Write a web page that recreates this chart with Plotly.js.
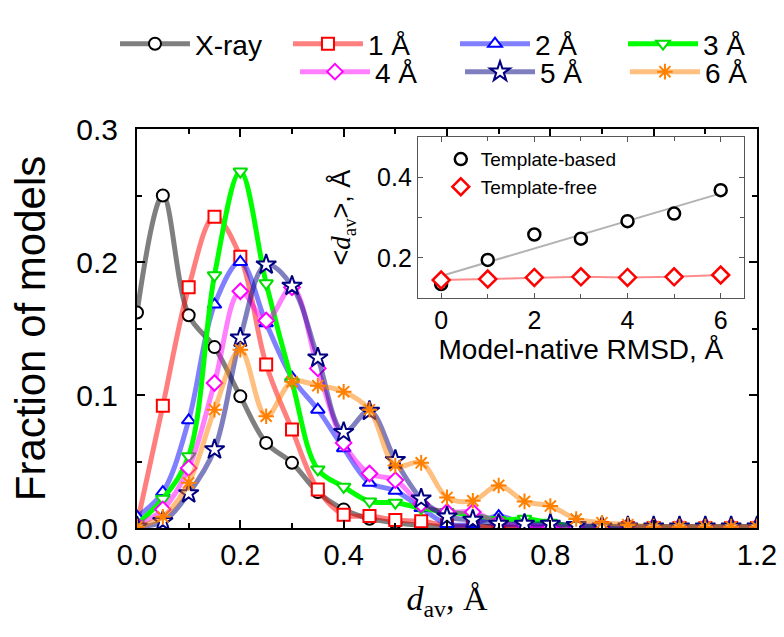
<!DOCTYPE html>
<html><head><meta charset="utf-8">
<script src="https://cdn.plot.ly/plotly-3.0.1.min.js"></script>
<style>body{margin:0;background:#fff}</style>
</head><body><div id="chart" style="width:784px;height:637px"></div>
<script>
// distance values d_av (Å)
const dav = [0,0.05,0.1,0.15,0.2,0.25,0.3,0.35,0.4,0.45,0.5,0.55,0.6,0.65,0.7,0.75,0.8,0.85,0.9,0.95,1.0,1.05,1.1,1.15,1.2];
const seriesNames = ['X-ray','1 Å','2 Å','3 Å','4 Å','5 Å','6 Å'];
const xray = [0.162,0.250,0.160,0.136,0.099,0.064,0.049,0.027,0.014,0.007,0.004,0.002,0.001,0.001,0.001,0,0,0,0,0,0,0,0,0,0];
const rmsd1 = [0.003,0.092,0.181,0.234,0.204,0.123,0.074,0.029,0.010,0.009,0.006,0.005,0.002,0.001,0.001,0,0,0,0,0,0,0,0,0,0];
const rmsd2 = [0.0085,0.027,0.081,0.168,0.200,0.154,0.113,0.089,0.060,0.034,0.028,0.015,0.003,0.003,0.009,0.003,0.001,0.001,0.001,0.001,0.001,0.001,0.001,0.001,0.001];
const rmsd3 = [0.003,0.022,0.054,0.190,0.268,0.184,0.110,0.044,0.031,0.020,0.019,0.015,0.012,0.010,0.006,0.007,0.004,0.001,0.001,0.001,0.001,0.001,0.001,0.001,0.001];
const rmsd4 = [0.002,0.014,0.045,0.109,0.178,0.156,0.181,0.120,0.064,0.041,0.036,0.018,0.012,0.012,0.004,0.002,0.001,0.001,0.001,0.001,0.001,0.001,0.001,0.001,0.001];
const rmsd5 = [0.001,0.005,0.026,0.059,0.143,0.198,0.182,0.128,0.072,0.088,0.051,0.022,0.0085,0.006,0.003,0.003,0.003,0.002,0.001,0.001,0.001,0.001,0.001,0.001,0.001];
const rmsd6 = [0.001,0.0085,0.034,0.089,0.134,0.084,0.110,0.107,0.1025,0.089,0.047,0.049,0.023,0.0205,0.032,0.020,0.0165,0.0068,0.004,0.0025,0.001,0.001,0.001,0.001,0.001];

// inset data
const rmsdInset = [0,1,2,3,4,5,6];
const templateBased = [0.135,0.195,0.258,0.2475,0.291,0.310,0.368];
const templateFree = [0.145,0.1475,0.1515,0.153,0.1515,0.153,0.1575];
const fitX = [0,6];
const fitY = [0.155,0.360];

const SANS = 'Arial, "Liberation Sans", sans-serif';
const SERIF = '"Times New Roman", "Liberation Serif", serif';

const styles = [
  {line:'rgba(0,0,0,0.5)', mk:'#000', sym:'circle'},
  {line:'rgba(255,0,0,0.5)', mk:'#ff0000', sym:'square'},
  {line:'rgba(0,0,255,0.5)', mk:'#0000ff', sym:'triangle-up'},
  {line:'#00ff00', mk:'#00dd00', sym:'triangle-down'},
  {line:'rgba(255,0,255,0.5)', mk:'#ff00ff', sym:'diamond'},
  {line:'rgba(0,0,128,0.5)', mk:'#000080', sym:'star'},
  {line:'rgba(255,128,0,0.5)', mk:'#ff8000', sym:'asterisk-open'}
];
const ys = [xray,rmsd1,rmsd2,rmsd3,rmsd4,rmsd5,rmsd6];
// legend slots (one legend per entry so the 4+3 grid can be placed)
const legendIds = ['legend','legend2','legend3','legend4','legend5','legend6','legend7'];
const legX = [-0.0355,0.2435,0.5129,0.7839,0.2548,0.521,0.787];
const legY = [1.213,1.213,1.213,1.213,1.143,1.143,1.143];

const data = ys.map((y,i)=>{
  const isOpen = styles[i].sym.endsWith('-open');
  return {
    x: dav, y: y, name: seriesNames[i], type:'scatter', mode:'lines+markers',
    legend: legendIds[i],
    line:{shape:'spline', smoothing:1, width:5, color:styles[i].line},
    marker:{symbol:styles[i].sym, size: styles[i].sym==='star'?15:(isOpen?13:12),
            color: isOpen ? styles[i].mk : '#fff',
            line:{color:styles[i].mk, width:2}},
    xaxis:'x', yaxis:'y'
  };
});

// inset traces
data.push({x:fitX, y:fitY, mode:'lines', line:{color:'rgba(0,0,0,0.3)', width:2}, showlegend:false, xaxis:'x2', yaxis:'y2', hoverinfo:'skip'});
data.push({x:rmsdInset, y:templateFree, mode:'lines', line:{color:'rgba(255,0,0,0.45)', width:2}, showlegend:false, xaxis:'x2', yaxis:'y2'});
data.push({x:rmsdInset, y:templateBased, name:'Template-based', mode:'markers', legend:'legend8',
  marker:{symbol:'circle', size:12, color:'#fff', line:{color:'#000', width:2.5}}, xaxis:'x2', yaxis:'y2'});
data.push({x:rmsdInset, y:templateFree, name:'Template-free', mode:'markers', legend:'legend8',
  marker:{symbol:'diamond', size:13, color:'#fff', line:{color:'#ff0000', width:2.5}}, xaxis:'x2', yaxis:'y2'});

const layout = {
  width:784, height:637,
  margin:{l:137, r:27, t:129, b:109},
  paper_bgcolor:'#fff', plot_bgcolor:'rgba(0,0,0,0)',
  font:{family:SANS, color:'#000'},
  showlegend:true,
  legend8:{orientation:'v', x:0.49, xanchor:'left', y:0.972, yanchor:'top',
          font:{size:19, family:SANS}, bgcolor:'rgba(0,0,0,0)', tracegroupgap:0},
  xaxis:{domain:[0,1], range:[0,1.2], dtick:0.2, tick0:0, tickformat:'.1f',
    ticks:'inside', ticklen:8, tickwidth:2, tickcolor:'#000',
    minor:{ticks:'inside', dtick:0.1, ticklen:5, tickwidth:2, tickcolor:'#000'},
    showline:true, linewidth:2, linecolor:'#000', mirror:'allticks',
    showgrid:false, zeroline:false, tickfont:{size:29, family:SANS},
    title:{text:'<i>d</i><sub>av</sub>, Å', font:{size:34, family:SERIF}, standoff:16}},
  yaxis:{domain:[0,1], range:[0,0.3], dtick:0.1, tick0:0, tickformat:'.1f',
    ticks:'inside', ticklen:8, tickwidth:2, tickcolor:'#000',
    minor:{ticks:'inside', dtick:0.05, ticklen:5, tickwidth:2, tickcolor:'#000'},
    showline:true, linewidth:2, linecolor:'#000', mirror:'allticks',
    showgrid:false, zeroline:false, tickfont:{size:30, family:SANS}, ticklabelstandoff:11,
    title:{text:'Fraction of models', font:{size:42, family:SANS}, standoff:18}},
  xaxis2:{domain:[0.453,0.979], anchor:'y2', range:[-0.5,6.5], dtick:2, tick0:0,
    ticks:'inside', ticklen:5, tickwidth:1, tickcolor:'#555',
    minor:{ticks:'inside', dtick:1, ticklen:4, tickwidth:1, tickcolor:'#555'},
    showline:true, linewidth:1, linecolor:'#555', mirror:'allticks',
    showgrid:false, zeroline:false, tickfont:{size:25, family:SANS},
    title:{text:'Model-native RMSD, Å', font:{size:28, family:SANS}, standoff:3}},
  yaxis2:{domain:[0.576,0.98], anchor:'x2', range:[0.1,0.5], dtick:0.2, tick0:0, tickformat:'.1f',
    ticks:'inside', ticklen:5, tickwidth:1, tickcolor:'#555',
    minor:{ticks:'inside', dtick:0.1, ticklen:4, tickwidth:1, tickcolor:'#555'},
    showline:true, linewidth:1, linecolor:'#555', mirror:'allticks',
    showgrid:false, zeroline:false, tickfont:{size:25, family:SANS},
    title:{text:'&lt;<span style="font-family:Times New Roman, Liberation Serif"><i>d</i><sub>av</sub></span>&gt;, Å', font:{size:27, family:SANS}, standoff:18}}
};
legendIds.forEach((id,i)=>{
  layout[id] = {orientation:'h', x:legX[i], xanchor:'left', y:legY[i], yanchor:'middle',
    itemwidth:70, font:{size:28, family:SANS}, bgcolor:'rgba(0,0,0,0)'};
});

Plotly.newPlot('chart', data, layout, {displayModeBar:false, staticPlot:true});
</script></body></html>
